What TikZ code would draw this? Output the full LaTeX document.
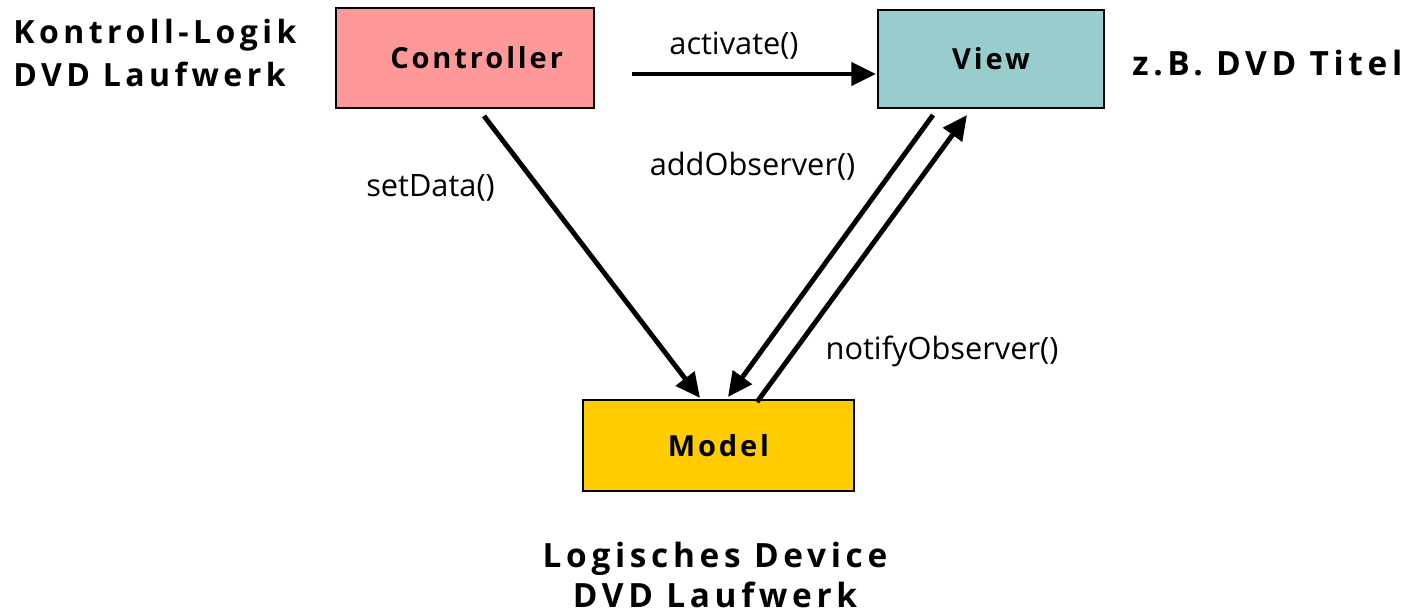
\documentclass[tikz,border=0pt]{standalone}
\usepackage{fontspec}
\setmainfont{Open Sans}
\newfontfamily\spacedbold[LetterSpace=14]{Open Sans}
\newfontfamily\boxbold[LetterSpace=10]{Open Sans}
\usetikzlibrary{positioning,arrows.meta}

\tikzset{
  box/.style={draw=black, line width=1.2pt, minimum width=#1, font=\boxbold\bfseries\fontsize{16.5}{20}\selectfont},
  title/.style={font=\spacedbold\bfseries\fontsize{19}{25}\selectfont},
  call/.style={font=\fontsize{17.5}{20}\selectfont},
  msg/.style={line width=2.8pt, -{Triangle[length=14pt, width=13pt]}}
}

\begin{document}
\begin{tikzpicture}
\useasboundingbox (0,0) rectangle (28.42,-12.26);

\node[box=5.16cm, minimum height=2.0cm, fill={rgb,255:red,255;green,153;blue,153}, inner xsep=0pt, text width=3.92cm, align=right] (ctrl) at (9.30,-1.16) {Controller};
\node[box=4.52cm, minimum height=1.96cm, fill={rgb,255:red,153;green,204;blue,204}] (view) at (19.82,-1.18) {View};
\node[box=5.42cm, minimum height=1.82cm, fill={rgb,255:red,255;green,204;blue,0}] (model) at (14.37,-8.91) {Model};

\coordinate (ctrlR) at (12.64,-1.48);
\coordinate (viewL) at (17.52,-1.48);
\coordinate (ctrlB) at (9.68,-2.32);
\coordinate (modelA) at (14.00,-7.96);
\coordinate (viewB) at (18.66,-2.30);
\coordinate (modelB) at (14.56,-7.94);
\coordinate (modelC) at (15.14,-8.04);
\coordinate (viewC) at (19.34,-2.30);

\draw[msg] (ctrlR) -- (viewL);
\draw[msg] (ctrlB) -- (modelA);
\draw[msg] (viewB) -- (modelB);
\draw[msg] (modelC) -- (viewC);

\node[call] (act) at (14.68,-0.92) {activate()};
\node[call] (set) at (8.61,-3.76) {setData()};
\node[call] (add) at (15.05,-3.32) {addObserver()};
\node[call] (notify) at (18.84,-7.02) {notifyObserver()};

\node[title, anchor=west, align=left, inner sep=0pt, font=\spacedbold\bfseries\fontsize{18.2}{25}\selectfont] (ctrlnote) at (0.26,-1.06) {Kontroll-Logik\\DVD Laufwerk};
\node[title, anchor=west, inner sep=0pt] (viewnote) at (22.64,-1.26) {z.B. DVD Titel};
\node[title, align=center, inner sep=0pt, font=\spacedbold\bfseries\fontsize{19}{22.8}\selectfont] (modelnote) at (14.30,-11.50) {Logisches Device\\DVD Laufwerk};

\end{tikzpicture}
\end{document}
